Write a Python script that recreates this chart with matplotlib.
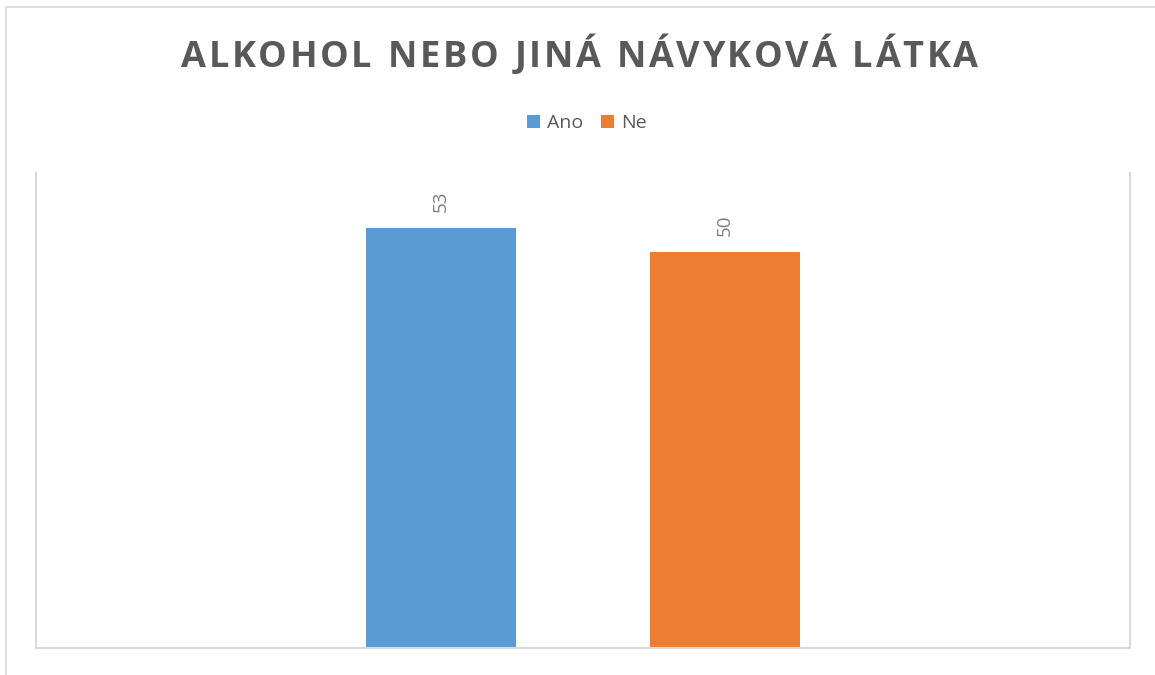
import matplotlib.pyplot as plt
from matplotlib.patches import Rectangle

# data
series = ["Ano", "Ne"]
values = [53, 50]
colors = ["#5b9bd5", "#ed7d31"]
title = "ALKOHOL NEBO JINÁ NÁVYKOVÁ LÁTKA"

plt.rcParams['font.family'] = ['Open Sans', 'DejaVu Sans']

fig = plt.figure(figsize=(11.55, 6.75), dpi=100)
fig.patch.set_facecolor("white")

# light outer border of the chart area (cropped at right/bottom)
fig.add_artist(Rectangle((6 / 1155, -0.1), 1.2, 1 - 7 / 675 + 0.1,
                         transform=fig.transFigure, fill=False,
                         edgecolor="#d9d9d9", linewidth=1.2))

ax = fig.add_axes([36 / 1155, 1 - 648 / 675, (1130 - 36) / 1155, (648 - 173) / 675])

offsets = [-0.1296, 0.1296]
width = 0.137
for name, val, col, off in zip(series, values, colors, offsets):
    ax.bar(off, val, width=width, color=col, label=name)
    ax.text(off, val + 2.1, str(val), rotation=90, ha="center", va="bottom",
            fontsize=13.5, color="#7f7f7f")

ax.set_xlim(-0.5, 0.5)
ax.set_ylim(0, 60)
ax.set_xticks([])
ax.set_yticks([])
for side in ["left", "right", "bottom"]:
    ax.spines[side].set_color("#d9d9d9")
    ax.spines[side].set_linewidth(1.5)
ax.spines["top"].set_visible(False)

# title, letter by letter to get the wide tracking
fig.canvas.draw()
r = fig.canvas.get_renderer()
tprops = dict(fontsize=26, fontweight="bold", color="#595959", va="center")
track = 2.6  # extra px between letters
widths = []
for ch in title:
    t = fig.text(0, 0, ch if ch != " " else "a", **tprops)
    w = t.get_window_extent(r).width
    if ch == " ":
        w *= 0.5
    widths.append(w)
    t.remove()
total = sum(widths) + track * (len(title) - 1)
x = (1155 - total) / 2 + 2
for ch, w in zip(title, widths):
    if ch != " ":
        fig.text(x / 1155, 1 - 58 / 675, ch, ha="left", **tprops)
    x += w + track

fig.legend(loc="center", bbox_to_anchor=(587 / 1155, 1 - 123 / 675), ncol=2,
           frameon=False, fontsize=14, handlelength=0.65, handleheight=0.65,
           handletextpad=0.4, columnspacing=0.9, labelcolor="#595959")

fig.savefig("out.png", dpi=100)
